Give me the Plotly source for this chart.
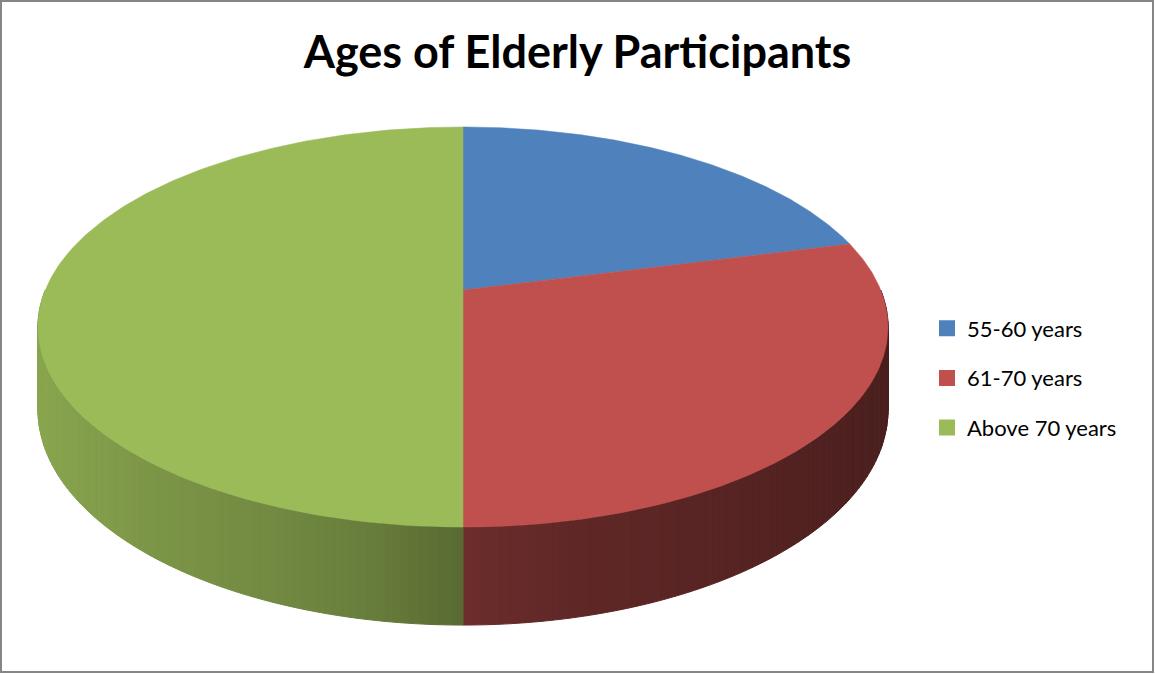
import numpy as np
import plotly.graph_objects as go

# ---- data ----
labels = ["55-60 years", "61-70 years", "Above 70 years"]
values = [21, 29, 50]
colors = ["#4F81BD", "#C0504D", "#9BBB59"]
title_text = "Ages of Elderly Participants"

# ---- 3D pie projection styling (pixel space) ----
W, Hpx = 1155, 674
CX, CY = 463.0, 290.0      # apex of slices on the top face
A, B, K = 417.7, 193.2, 0.185
DEPTH = 98.0
FONT = "Lato"


def proj(theta):
    w = 1.0 + K * np.cos(theta)
    x = CX + A * np.sin(theta) / w
    y = CY - B * np.cos(theta) / w
    return x, y, w


def hex_rgb(h):
    h = h.lstrip("#")
    return [int(h[i:i + 2], 16) for i in (0, 2, 4)]


def shade(h, f):
    r, g, b = hex_rgb(h)
    return "rgb(%d,%d,%d)" % (round(r * f), round(g * f), round(b * f))


total = float(sum(values))
fracs = np.cumsum([0.0] + [v / total for v in values])

fig = go.Figure()

# side walls (front half), drawn as thin shaded strips
N = 180
edges = np.linspace(np.pi / 2, 3 * np.pi / 2, N + 1)
bx = [40, 150, 300, 380, 463, 560, 700, 890]
bf = [0.88, 0.80, 0.72, 0.66, 0.565, 0.50, 0.46, 0.39]
for i in range(N):
    ta, tb = edges[i], edges[i + 1]
    tm = 0.5 * (ta + tb)
    fm = tm / (2 * np.pi)
    idx = int(np.searchsorted(fracs, fm, side="right") - 1)
    idx = min(max(idx, 0), len(values) - 1)
    xa, ya, wa = proj(ta)
    xb, yb, wb = proj(tb)
    da = DEPTH * (1 - K) / wa
    db = DEPTH * (1 - K) / wb
    xm, _, _ = proj(tm)
    col = shade(colors[idx], float(np.interp(xm, bx, bf)))
    fig.add_trace(go.Scatter(
        x=[xa, xb, xb, xa, xa], y=[ya, yb, yb + db, ya + da, ya],
        mode="lines", fill="toself", fillcolor=col,
        line=dict(color=col, width=1), showlegend=False, hoverinfo="skip"))

# top faces
for i, v in enumerate(values):
    th = np.linspace(fracs[i] * 2 * np.pi, fracs[i + 1] * 2 * np.pi, 200)
    xs, ys, _ = proj(th)
    fig.add_trace(go.Scatter(
        x=np.concatenate([[CX], xs, [CX]]), y=np.concatenate([[CY], ys, [CY]]),
        mode="lines", fill="toself", fillcolor=colors[i],
        line=dict(color=colors[i], width=0.5), showlegend=False,
        name=labels[i], hoverinfo="name"))

# legend entries
for i, lab in enumerate(labels):
    fig.add_trace(go.Scatter(
        x=[None], y=[None], mode="markers", name=lab, legendgroup=lab,
        marker=dict(symbol="square", size=16, color=colors[i])))

fig.update_layout(
    width=W, height=Hpx,
    margin=dict(l=0, r=0, t=0, b=0),
    paper_bgcolor="white", plot_bgcolor="white",
    title=dict(text="<b>" + title_text + "</b>", x=0.5, xanchor="center",
               y=1 - 52 / Hpx, yanchor="middle",
               font=dict(family=FONT, size=45, color="black")),
    xaxis=dict(range=[0, W], visible=False, fixedrange=True),
    yaxis=dict(range=[Hpx, 0], visible=False, fixedrange=True),
    legend=dict(x=927 / W, y=1 - 378 / Hpx, xanchor="left", yanchor="middle",
                font=dict(family=FONT, size=22, color="black"),
                tracegroupgap=18, bgcolor="rgba(0,0,0,0)"),
    shapes=[dict(type="rect", xref="paper", yref="paper", x0=1 / W, x1=1 - 2 / W,
                 y0=2 / Hpx, y1=1 - 1 / Hpx, line=dict(color="#868686", width=2))],
)

fig.write_html("out.html")
